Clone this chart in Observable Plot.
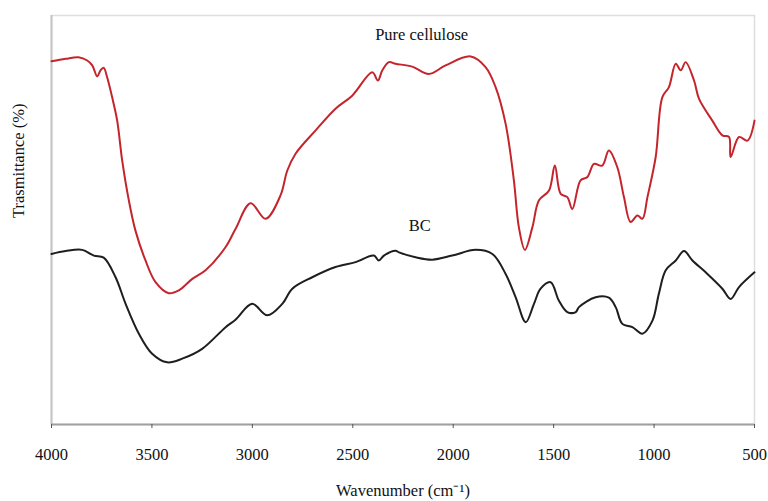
<!DOCTYPE html>
<html>
<head>
<meta charset="utf-8">
<script src="https://cdn.jsdelivr.net/npm/d3@7"></script>
<script src="https://cdn.jsdelivr.net/npm/@observablehq/plot@0.6"></script>
<style>
  html, body { margin: 0; padding: 0; background: #fff; }
  #chart { width: 768px; height: 501px; }
  #chart svg, #chart svg text { font-family: "Liberation Serif", "Times New Roman", serif !important; }
</style>
</head>
<body>
<div id="chart"></div>
<script>
// Wavenumbers (cm^-1) and transmittance (arbitrary %)
const celluloseWn = [4000,3930,3866,3822,3797,3772,3756,3740,3723,3698,3673,3648,3615,3582,3532,3482,3416,3366,3299,3233,3133,3084,3009,2934,2860,2826,2785,2685,2586,2503,2403,2375,2353,2320,2287,2204,2121,2038,1913,1839,1789,1739,1698,1673,1643,1606,1573,1523,1494,1465,1432,1407,1366,1332,1299,1258,1225,1183,1150,1117,1083,1058,1033,992,959,926,892,867,843,801,776,710,660,627,619,577,535,500];
const celluloseT  = [88.8,89.4,89.8,89.0,87.8,85.1,86.6,87.2,84.9,80.0,74.3,64.5,54.8,47.4,40.1,34.8,32.1,32.8,35.6,37.7,43.4,47.8,54.1,50.3,56.0,62.1,66.2,71.9,77.2,80.4,86.1,84.1,86.6,88.6,88.2,87.5,85.7,87.8,90.0,87.4,82.5,73.5,59.7,48.2,42.7,48.2,54.8,57.2,63.3,56.4,55.6,52.7,59.7,60.5,63.7,63.3,67.0,62.9,55.6,49.5,51.1,50.3,55.6,65.4,80.0,82.5,88.2,86.6,88.6,84.1,79.6,74.3,70.7,70.3,65.4,70.3,69.4,74.3];

const bcWn = [4000,3930,3847,3789,3740,3681,3631,3565,3499,3424,3349,3250,3133,3084,3001,2926,2851,2801,2702,2586,2486,2395,2370,2345,2287,2270,2187,2104,2005,1888,1805,1739,1689,1639,1598,1565,1515,1474,1432,1390,1374,1291,1225,1191,1158,1108,1058,1008,976,942,892,851,809,743,660,619,577,500];
const bcT  = [41.7,42.4,42.7,41.3,40.8,36.0,29.5,22.2,17.3,15.2,16.1,18.5,23.8,25.6,29.5,26.7,29.5,33.2,36.0,38.5,39.7,41.3,40.1,41.3,42.5,42.1,40.9,40.3,41.3,42.7,41.7,36.8,31.1,25.0,29.5,33.2,34.8,30.3,27.5,27.5,28.7,31.1,31.0,28.7,24.6,23.8,22.2,25.4,32.0,37.7,40.1,42.4,40.1,37.2,33.2,30.7,33.6,37.2];

const xTicks = [4000, 3500, 3000, 2500, 2000, 1500, 1000, 500];
const seriesLabels = ["Pure cellulose", "BC"];
const labelWn = [2157, 2167];
const labelT = [93.9, 47.4];
const xLabel = "Wavenumber (cm\u207B\u00B9)";
const yLabel = "Trasmittance (%)";

const cellulose = celluloseWn.map((w, i) => ({wn: w, t: celluloseT[i]}));
const bc = bcWn.map((w, i) => ({wn: w, t: bcT[i]}));
const labels = seriesLabels.map((s, i) => ({text: s, wn: labelWn[i], t: labelT[i]}));

const serif = "'Liberation Serif', 'Times New Roman', serif";

const chart = Plot.plot({
  width: 768,
  height: 501,
  marginLeft: 51,
  marginRight: 14,
  marginTop: 15,
  marginBottom: 77,
  style: {fontFamily: serif, fontSize: "16.5px", color: "#111", background: "#fff"},
  x: {domain: [4000, 500]},
  y: {domain: [0, 100], axis: null},
  marks: [
    Plot.frame({stroke: "#dedede", strokeWidth: 1.5}),
    Plot.ruleX([4000], {stroke: "#c4c4c4", strokeWidth: 2}),
    Plot.ruleY([0], {stroke: "#a0a0a0", strokeWidth: 2}),
    Plot.axisX({ticks: xTicks, tickSize: 4, tickPadding: 20, tickFormat: d => String(d), stroke: "#555", label: null, fontSize: 16.5, fontFamily: serif, fill: "#111"}),
    Plot.line(cellulose, {x: "wn", y: "t", stroke: "#c4252c", strokeWidth: 2, curve: "catmull-rom"}),
    Plot.line(bc, {x: "wn", y: "t", stroke: "#1e1e1e", strokeWidth: 2, curve: "catmull-rom"}),
    Plot.text(labels, {x: "wn", y: "t", text: "text", lineAnchor: "bottom", fontSize: 16.5, fontFamily: serif, fill: "#111"}),
    Plot.text([xLabel], {frameAnchor: "bottom", dy: 71, lineAnchor: "bottom", fontSize: 16.5, fontFamily: serif, fill: "#111"}),
    Plot.text([yLabel], {frameAnchor: "left", rotate: -90, dx: -33, dy: -2, lineAnchor: "middle", fontSize: 16.5, fontFamily: serif, fill: "#111"})
  ]
});
document.getElementById("chart").appendChild(chart);
</script>
</body>
</html>
